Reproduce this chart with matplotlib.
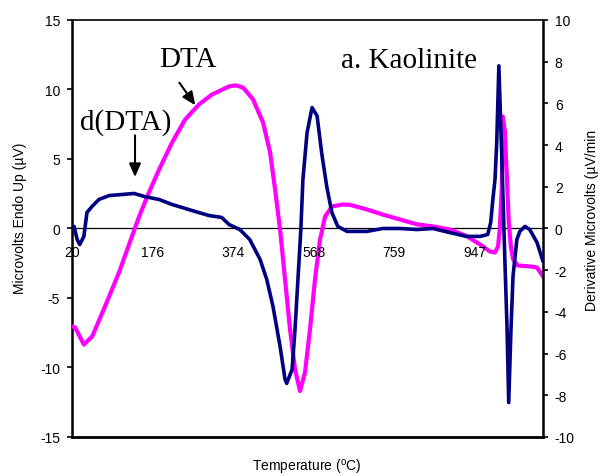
import numpy as np
import matplotlib
matplotlib.use('Agg')
import matplotlib.pyplot as plt

# category-axis labels (Excel style: equally spaced, temperatures not linear)
tick_temps = [20, 176, 374, 568, 759, 947]
tick_labels = ['20', '176', '374', '568', '759', '947']

# DTA (left axis, microvolts)
dta_temp = [20, 26, 43, 59, 84, 111, 136, 150, 169, 192, 224, 256, 290, 322, 364, 380,
            398, 422, 446, 463, 475, 487, 499, 511, 523, 535, 547, 559, 571, 583, 595,
            611, 637, 654, 694, 732, 772, 812, 849, 889, 928, 959, 982, 994, 1001, 1005,
            1010, 1012, 1017, 1022, 1026, 1031, 1036, 1047, 1075, 1092, 1103, 1106]
dta_val = [-7.05, -7.12, -8.35, -7.77, -5.6, -3.17, -0.58, 0.86, 2.59, 4.24, 6.19, 7.84,
           8.92, 9.64, 10.22, 10.3, 10.14, 9.28, 7.63, 5.47, 2.81, -0.07, -3.67, -7.27,
           -10.14, -11.7, -10.36, -7.27, -3.67, -0.79, 0.86, 1.58, 1.73, 1.7, 1.37, 1.0,
           0.65, 0.3, 0.15, -0.07, -0.55, -1.15, -1.65, -1.73, -1.3, -0.07, 3.0, 8.06,
           7.0, 3.5, 0.5, -1.3, -2.2, -2.66, -2.73, -2.8, -3.31, -3.45]

# d(DTA) (right axis, microvolts/min)
ddta_temp = [20, 24, 30, 35, 43, 49, 59, 72, 92, 117, 140, 161, 192, 224, 248, 280, 315,
             346, 364, 390, 414, 439, 455, 470, 487, 499, 503, 516, 523, 530, 537, 542,
             552, 564, 576, 587, 599, 611, 625, 647, 694, 732, 772, 812, 849, 889, 928,
             959, 977, 984, 989, 994, 998, 1003, 1010, 1017, 1022, 1026, 1031, 1036,
             1045, 1052, 1064, 1075, 1092, 1106]
ddta_val = [0.1, 0.1, -0.53, -0.77, -0.38, 0.77, 1.06, 1.39, 1.58, 1.63, 1.68, 1.53, 1.39,
            1.15, 1.01, 0.82, 0.62, 0.53, 0.19, -0.05, -0.53, -1.49, -2.45, -3.74, -5.66,
            -7.24, -7.43, -6.76, -4.84, -2.45, -0.05, 2.35, 4.6, 5.8, 5.4, 3.6, 2.0, 0.77,
            0.1, -0.14, -0.14, 0.0, 0.0, -0.05, 0.0, -0.2, -0.38, -0.38, -0.29, 0.29,
            1.39, 2.35, 4.1, 7.8, 3.3, -1.5, -4.7, -8.35, -5.0, -2.3, -0.53, -0.14, 0.1,
            -0.05, -0.67, -1.58]

# category axis: tick positions 0..5, extended one step for the last segment
pos_temps = np.array(tick_temps + [1135])
pos_index = np.arange(len(pos_temps), dtype=float)


def fwd(t):
    return np.interp(t, pos_temps, pos_index)


def inv(p):
    return np.interp(p, pos_index, pos_temps)


plt.rcParams['font.family'] = ['Liberation Sans', 'DejaVu Sans']
plt.rcParams['axes.unicode_minus'] = False

fig = plt.figure(figsize=(6.03, 4.77), dpi=100)
ax = fig.add_axes([0.1194, 0.0818, 0.7811, 0.8742])
ax.set_xscale('function', functions=(fwd, inv))
ax2 = ax.twinx()

ax.plot(dta_temp, dta_val, color='#FF00FF', lw=3.0, zorder=3,
        solid_capstyle='round', solid_joinstyle='round')
ax2.plot(ddta_temp, ddta_val, color='#000080', lw=2.6, zorder=4,
         solid_capstyle='round', solid_joinstyle='round')

ax.set_xlim(20, 1106)
ax.set_ylim(-15, 15)
ax2.set_ylim(-10, 10)
ax.set_yticks(range(-15, 16, 5))
ax2.set_yticks(range(-10, 11, 2))
ax.set_xticks(tick_temps)
ax.set_xticklabels(tick_labels)
ax.xaxis.set_minor_locator(plt.NullLocator())
ax.xaxis.set_zorder(6)

# axis line through zero, plot area border at the bottom
ax.spines['bottom'].set_position(('data', 0))
ax.spines['bottom'].set_linewidth(0.9)
ax.plot([0, 1], [0, 0], transform=ax.transAxes, color='black', lw=2.0,
        clip_on=False, zorder=5)
ax.spines['top'].set_linewidth(1.2)
ax.spines['left'].set_linewidth(1.8)
ax.spines['right'].set_visible(False)
for s in ['top', 'bottom', 'left']:
    ax2.spines[s].set_visible(False)
ax2.spines['right'].set_linewidth(1.8)

ax.tick_params(axis='x', length=0, pad=12, labelsize=10)
ax.tick_params(axis='y', direction='out', length=3.5, width=1.2, pad=5, labelsize=10)
ax2.tick_params(axis='y', direction='out', length=3.5, width=1.2, pad=5, labelsize=10)

fig.text(0.033, 0.543, 'Microvolts Endo Up (\u00b5V)', rotation=90, ha='center',
         va='center', fontsize=10)
fig.text(0.982, 0.537, 'Derivative Microvolts (\u00b5V/min', rotation=90, ha='center',
         va='center', fontsize=10)
fig.text(0.509, 0.019, 'Temperature ($\\mathregular{^o}$C)', ha='center', va='center',
         fontsize=10)

serif = ['Liberation Serif', 'DejaVu Serif']
fig.text(0.312, 0.8595, 'DTA', ha='center', va='baseline', fontsize=21, family=serif)
fig.text(0.208, 0.7275, 'd(DTA)', ha='center', va='baseline', fontsize=21, family=serif)
fig.text(0.678, 0.8574, 'a. Kaolinite', ha='center', va='baseline', fontsize=21,
         family=serif)

arrow = dict(arrowstyle='-|>,head_width=0.35,head_length=0.8', color='black', lw=1.5)
ax.annotate('', xy=(285, 8.7), xytext=(238, 10.65), arrowprops=arrow)
ax.annotate('', xy=(142, 3.5), xytext=(142, 6.9), arrowprops=arrow)

fig.savefig('out.png', dpi=100)
